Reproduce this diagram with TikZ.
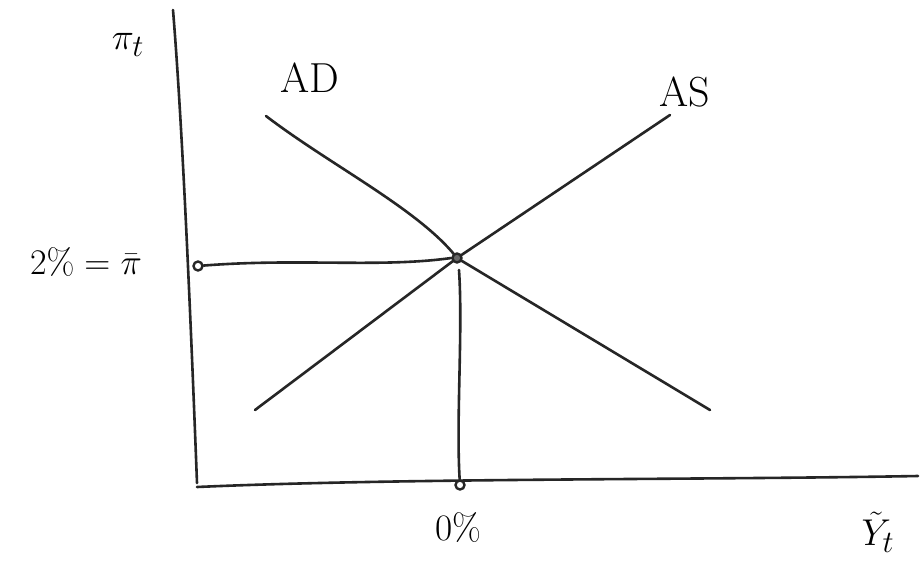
\documentclass[tikz,border=0pt]{standalone}
\usepackage{graphicx}
\begin{document}
\begin{tikzpicture}[x=1pt,y=-1pt,
  pen/.style={line width=2.6pt,line cap=round,line join=round,black!85},
  dotc/.style={circle,draw=black!85,line width=2.4pt,fill=white,inner sep=0pt,minimum size=9pt},
  lab/.style={inner sep=0pt,font=\fontsize{42}{48}\selectfont},
  lab2/.style={inner sep=0pt,font=\Huge}]
\useasboundingbox[fill=white] (0,0) rectangle (920,567);
% axes
\coordinate (ytop) at (173,10);
\coordinate (ybot) at (197,483);
\coordinate (xleft) at (197,487);
\coordinate (xright) at (918,476);
\draw[pen] (ytop) .. controls (182,120) and (190,300) .. (ybot);
\draw[pen] (xleft) .. controls (400,478) and (700,480) .. (xright);
% curves
\coordinate (adstart) at (266,116);
\coordinate (adend) at (710,410);
\coordinate (asstart) at (255,410);
\coordinate (asend) at (670,115);
\coordinate (eqc) at (457,258);
\draw[pen] (adstart) .. controls (330,165) and (420,210) .. (eqc) -- (adend);
\draw[pen] (asstart) -- (eqc) -- (asend);
\node[dotc,fill=black!60] (eq) at (eqc) {};
% points
\node[dotc] (ypt) at (198,266) {};
\node[dotc] (xpt) at (460,485) {};
\draw[pen] (ypt) .. controls (300,258) and (380,268) .. (eq.west);
\coordinate (vtop) at (459,270);
\draw[pen] (vtop) .. controls (463,330) and (456,420) .. (xpt);
% labels
\node[lab2] (pit) at (128,45) {\scalebox{1.5}{$\pi_t$}};
\node[lab] (ad) at (310,78) {AD};
\node[lab] (as) at (685,92) {AS};
\node[lab2] (pibar) at (86,262) {\scalebox{1.45}{$2\%=\bar{\pi}$}};
\node[lab2] (zero) at (458,528) {\scalebox{1.5}{$0\%$}};
\node[lab2] (ytil) at (878,532) {\scalebox{1.5}{$\tilde{Y}_t$}};
\end{tikzpicture}
\end{document}
